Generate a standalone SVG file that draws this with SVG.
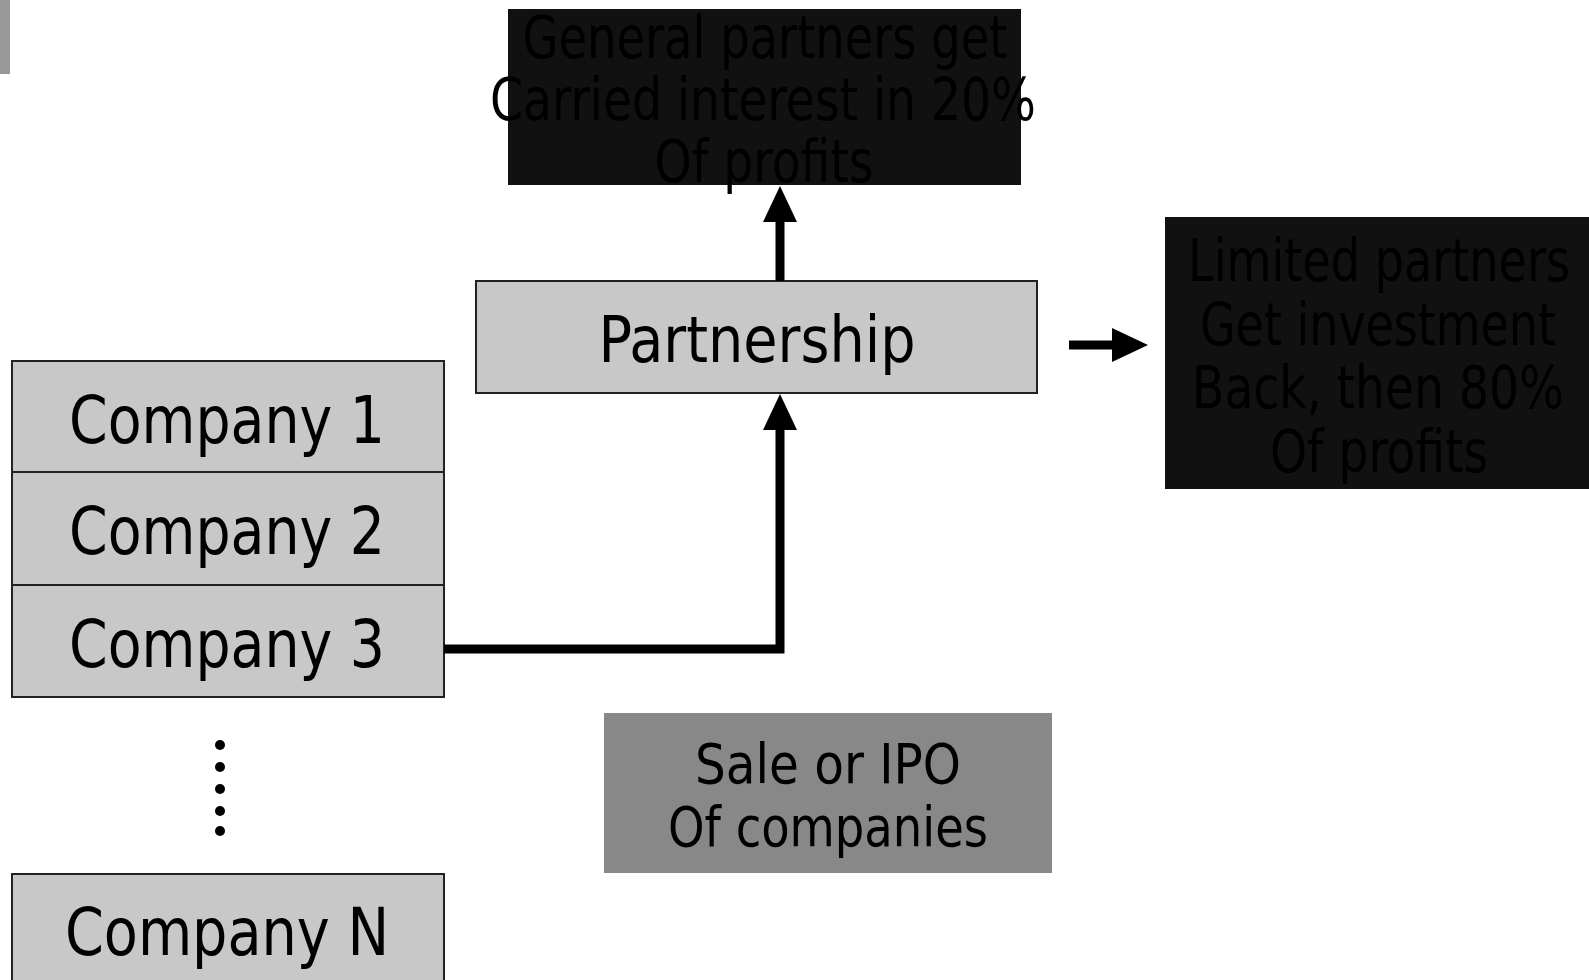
<svg xmlns="http://www.w3.org/2000/svg" width="1589" height="980" viewBox="0 0 1589 980">
<defs>
<style>
.lt{fill:#c8c8c8;stroke:#222;stroke-width:2}
.dk{fill:#111}
.md{fill:#888}
text{font-family:"DejaVu Sans Condensed","DejaVu Sans",sans-serif;fill:#000;text-anchor:middle}
.conn{fill:none;stroke:#000;stroke-width:9}
</style>
<marker id="ah" markerUnits="userSpaceOnUse" markerWidth="36" markerHeight="36" viewBox="0 0 36 34" refX="1" refY="17" orient="auto">
<path d="M0,0 L36,17 L0,34 Z" fill="#000"/>
</marker>
</defs>
<rect x="0" y="0" width="10" height="74" fill="#999"/>
<g id="general-partners">
<rect class="dk" x="508" y="9" width="513" height="176"/>
<text x="765" y="58" font-size="58" textLength="485" lengthAdjust="spacingAndGlyphs">General partners get</text>
<text x="763" y="120" font-size="58" textLength="546" lengthAdjust="spacingAndGlyphs">Carried interest in 20%</text>
<text x="764" y="182" font-size="58" textLength="219" lengthAdjust="spacingAndGlyphs">Of profits</text>
</g>
<g id="partnership">
<rect class="lt" x="476" y="281" width="561" height="112"/>
<text x="757" y="362" font-size="64" textLength="317" lengthAdjust="spacingAndGlyphs">Partnership</text>
</g>
<g id="limited-partners">
<rect class="dk" x="1165" y="217" width="424" height="272"/>
<text x="1379" y="281" font-size="58" textLength="382" lengthAdjust="spacingAndGlyphs">Limited partners</text>
<text x="1378" y="345" font-size="58" textLength="356" lengthAdjust="spacingAndGlyphs">Get investment</text>
<text x="1378" y="408" font-size="58" textLength="372" lengthAdjust="spacingAndGlyphs">Back, then 80%</text>
<text x="1379" y="472" font-size="58" textLength="218" lengthAdjust="spacingAndGlyphs">Of profits</text>
</g>
<g id="company-1">
<rect class="lt" x="12" y="361" width="432" height="111"/>
<text x="227" y="443" font-size="66" textLength="316" lengthAdjust="spacingAndGlyphs">Company 1</text>
</g>
<g id="company-2">
<rect class="lt" x="12" y="472" width="432" height="113"/>
<text x="227" y="554" font-size="66" textLength="316" lengthAdjust="spacingAndGlyphs">Company 2</text>
</g>
<g id="company-3">
<rect class="lt" x="12" y="585" width="432" height="112"/>
<text x="227" y="667" font-size="66" textLength="316" lengthAdjust="spacingAndGlyphs">Company 3</text>
</g>
<g id="ellipsis">
<circle cx="220" cy="745" r="5"/>
<circle cx="220" cy="767" r="5"/>
<circle cx="220" cy="789" r="5"/>
<circle cx="220" cy="811" r="5"/>
<circle cx="220" cy="831" r="5"/>
</g>
<g id="company-n">
<rect class="lt" x="12" y="874" width="432" height="110"/>
<text x="227" y="955" font-size="66" textLength="324" lengthAdjust="spacingAndGlyphs">Company N</text>
</g>
<g id="sale-ipo">
<rect class="md" x="604" y="713" width="448" height="160"/>
<text x="828" y="783" font-size="56" textLength="266" lengthAdjust="spacingAndGlyphs">Sale or IPO</text>
<text x="828" y="846" font-size="56" textLength="320" lengthAdjust="spacingAndGlyphs">Of companies</text>
</g>
<g id="connectors">
<path class="conn" d="M780,281 L780,221" marker-end="url(#ah)"/>
<path class="conn" d="M444,649 L780,649 L780,429" marker-end="url(#ah)"/>
<path class="conn" d="M1069,345 L1113,345" marker-end="url(#ah)"/>
</g>
</svg>
